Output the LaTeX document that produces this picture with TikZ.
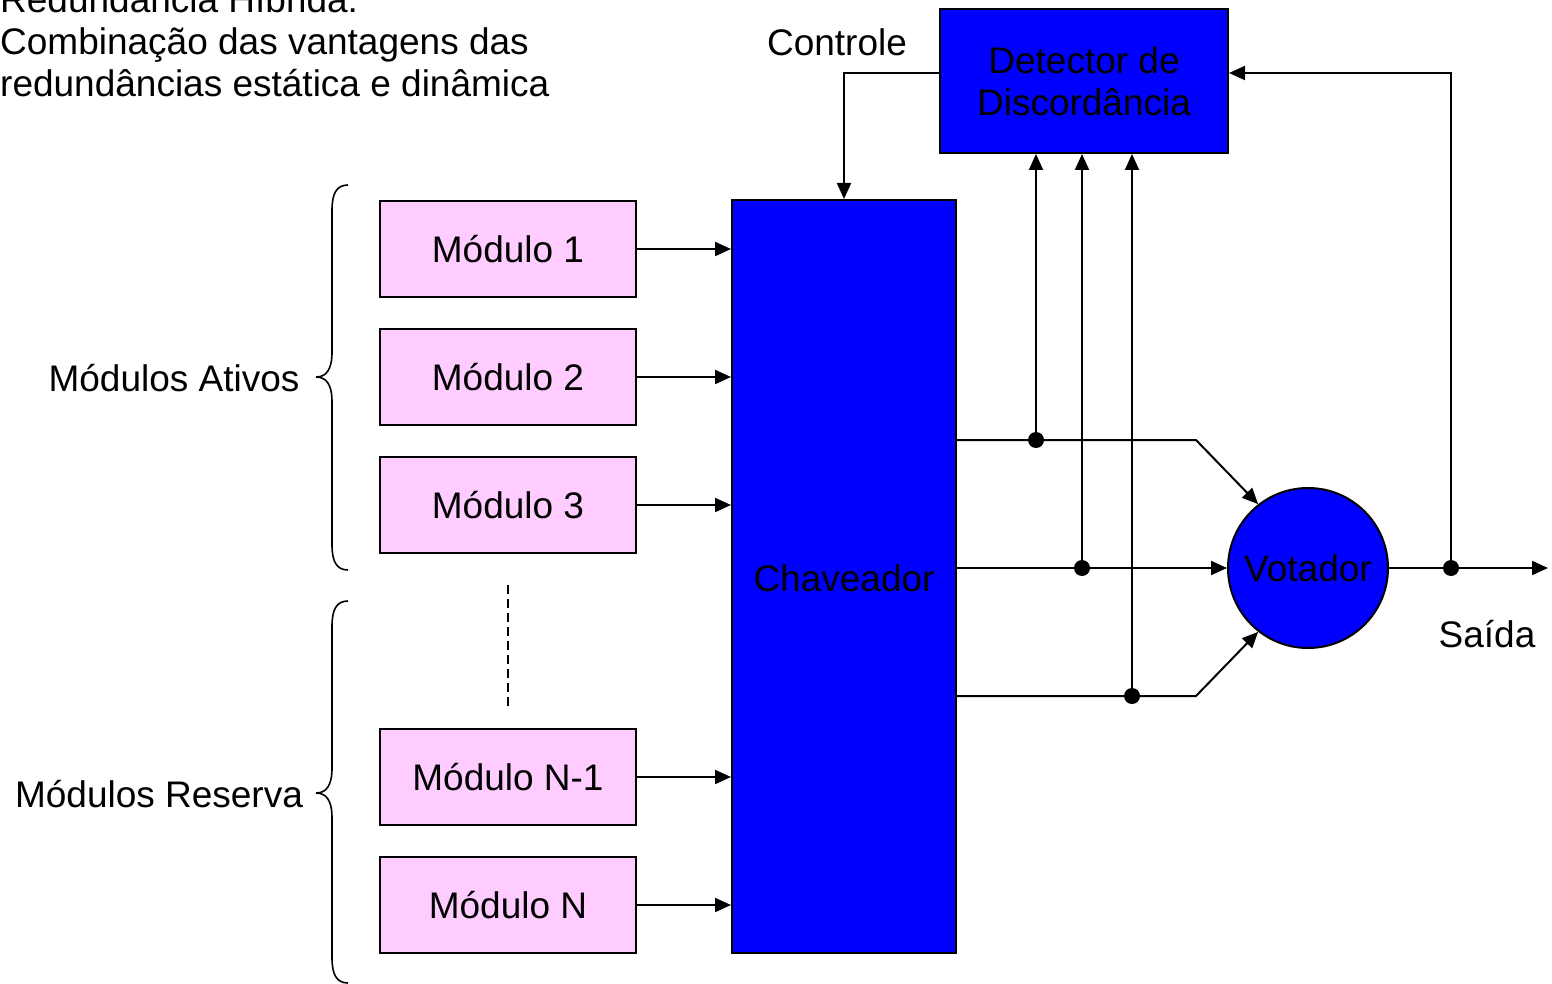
\documentclass[tikz,border=0pt]{standalone}
\usepackage{fontspec}
\setmainfont{Liberation Sans}
\usetikzlibrary{arrows.meta}
\definecolor{modpink}{RGB}{255,204,255}
\definecolor{boxblue}{RGB}{0,0,255}
\tikzset{
  every node/.style={font=\fontsize{37}{42}\selectfont, inner sep=0pt},
  wire/.style={line width=2pt},
  arr/.style={wire, -{Triangle[length=16pt,width=14pt]}},
  modbox/.style={draw, line width=2pt, fill=modpink, minimum width=256pt, minimum height=96pt},
  bluebox/.style={draw, line width=2pt, fill=boxblue},
  junction/.style={circle, fill=black, minimum size=16pt},
  bracepath/.style={line width=1.6pt}
}
\begin{document}
\begin{tikzpicture}[x=1pt,y=-1pt]
\useasboundingbox (0,0) rectangle (1552,984);
% title
\node[anchor=base west] (t1) at (0,13) {Redundância Híbrida:};
\node[anchor=base west] (t2) at (0,55) {Combinação das vantagens das};
\node[anchor=base west] (t3) at (0,97) {redundâncias estática e dinâmica};
% modules
\node[modbox] (m1) at (508,249) {Módulo 1};
\node[modbox] (m2) at (508,377) {Módulo 2};
\node[modbox] (m3) at (508,505) {Módulo 3};
\node[modbox] (mn1) at (508,777) {Módulo N-1};
\node[modbox] (mn) at (508,905) {Módulo N};
\draw[line width=1.4pt, dash pattern=on 9pt off 5pt] (508,585) coordinate (dA) -- (508,710) coordinate (dB);
% chaveador
\node[bluebox, minimum width=224pt, minimum height=753pt] (chav) at (844,576.5) {};
\node at (844,578) (chavlbl) {Chaveador};
% detector
\node[bluebox, minimum width=288pt, minimum height=144pt, align=center] (det) at (1084,81) {Detector de\\Discordância};
\node (ctrl) at (837,42) {Controle};
% votador
\node[bluebox, circle, minimum size=160pt] (vot) at (1308,568) {Votador};
\node (said) at (1487,634) {Saída};
% module arrows
\foreach \m in {m1,m2,m3,mn1,mn}{
  \draw[arr] (\m.east) -- (\m.east -| chav.west);
}
% control
\draw[arr] ([yshift=8pt]det.west) -| (chav.north);
% outputs of chaveador
\coordinate (o1) at (956,440);
\coordinate (o2) at (956,568);
\coordinate (o3) at (956,696);
\coordinate (k1) at (1196,440);
\coordinate (k3) at (1196,696);
\draw[arr] (o1) -- (k1) -- (vot.128);
\draw[arr] (o2) -- (vot.west);
\draw[arr] (o3) -- (k3) -- (vot.232);
\node[junction] (j1) at (1036,440) {};
\node[junction] (j2) at (1082,568) {};
\node[junction] (j3) at (1132,696) {};
\draw[arr] (j1.center) -- (j1.center |- det.south);
\draw[arr] (j2.center) -- (j2.center |- det.south);
\draw[arr] (j3.center) -- (j3.center |- det.south);
% output
\coordinate (outend) at (1548,568);
\draw[arr] (vot.east) -- (outend);
\node[junction] (j4) at (1451,568) {};
\draw[arr] (j4.center) |- ([yshift=8pt]det.east);
% braces
\draw[bracepath] (348,185) .. controls (337,185) and (332,193) .. (332,210) -- (332,352)
  .. controls (332,370) and (326,377) .. (316,377) coordinate (b1)
  .. controls (326,377) and (332,384) .. (332,402) -- (332,545)
  .. controls (332,562) and (337,570) .. (348,570);
\draw[bracepath] (348,601) .. controls (337,601) and (332,609) .. (332,626) -- (332,768)
  .. controls (332,786) and (326,793) .. (316,793) coordinate (b2)
  .. controls (326,793) and (332,800) .. (332,818) -- (332,958)
  .. controls (332,975) and (337,983) .. (348,983);
\node (lblA) at (174,378) {Módulos Ativos};
\node (lblR) at (159,794) {Módulos Reserva};
\end{tikzpicture}
\end{document}
